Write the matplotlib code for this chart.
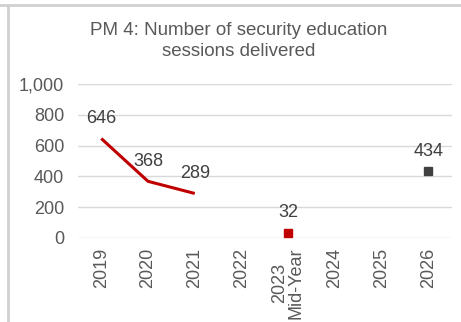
import matplotlib
matplotlib.use('Agg')
from matplotlib import pyplot as plt
from matplotlib.lines import Line2D

plt.rcParams['font.family'] = ['Liberation Sans', 'DejaVu Sans']

categories = ['2019', '2020', '2021', '2022', '2023\nMid-Year', '2024', '2025', '2026']
actual_years = ['2019', '2020', '2021']
actual_values = [646, 368, 289]
midyear_cat = '2023\nMid-Year'
midyear_value = 32
target_cat = '2026'
target_value = 434
yticks = [0, 200, 400, 600, 800, 1000]
ytick_labels = ['0', '200', '400', '600', '800', '1,000']

grey = '#595959'
red = '#C00000'

fig = plt.figure(figsize=(4.61, 3.22), dpi=100)
ax = fig.add_axes([0.169, 0.261, 0.811, 0.478])

x = {c: i for i, c in enumerate(categories)}
xs = [x[c] for c in actual_years]
ax.plot(xs, actual_values, color=red, lw=2.2, solid_capstyle='butt')
ax.plot([x[midyear_cat]], [midyear_value], 's', color=red, ms=5.5)
ax.plot([x[target_cat]], [target_value], 's', color='#404040', ms=5.5)

# data labels
pts = list(zip(xs, actual_values)) + [(x[midyear_cat], midyear_value), (x[target_cat], target_value)]
for xi, v in pts:
    ax.annotate(str(v), (xi, v), xytext=(0, 14.5), textcoords='offset points',
                ha='center', va='center', fontsize=13, color='#404040')

ax.set_ylim(0, 1000)
ax.set_xlim(-0.5, len(categories) - 0.5)
ax.set_yticks(yticks)
ax.set_yticklabels(ytick_labels)
ax.set_xticks(range(len(categories)))
ax.set_xticklabels(categories, rotation=90, linespacing=0.95)
ax.tick_params(length=0, labelsize=13, labelcolor=grey)
ax.tick_params(axis='y', pad=10)
ax.tick_params(axis='x', pad=7)
ax.grid(axis='y', color='#D9D9D9', lw=1)
ax.set_axisbelow(True)
for s in ax.spines.values():
    s.set_visible(False)

fig.text(0.517, 0.872, 'PM 4: Number of security education\nsessions delivered',
         ha='center', va='center', fontsize=13.5, color=grey, linespacing=1.3)

# outer frame lines
fig.add_artist(Line2D([0, 1], [1 - 5/322, 1 - 5/322], color='#D0D0D0', lw=2))
fig.add_artist(Line2D([8/461, 8/461], [0, 1 - 5/322], color='#D0D0D0', lw=2))

fig.savefig('out.png', dpi=100)
